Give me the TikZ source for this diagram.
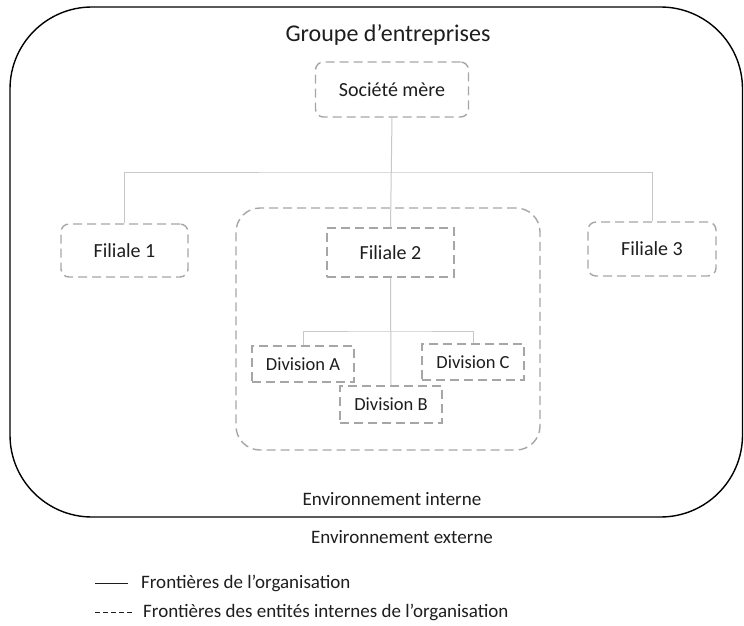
\documentclass[tikz,border=0pt]{standalone}
\usepackage{fontspec}
\setmainfont{Carlito}
\definecolor{dashgray}{HTML}{A6A6A6}
\definecolor{linegray}{HTML}{C8C8C8}
\definecolor{txt}{HTML}{1E1E1E}
\begin{document}
\begin{tikzpicture}[x=1pt,y=-1pt,
  entity/.style={draw=dashgray,line width=1.4pt,dash pattern=on 9pt off 5pt,rounded corners=8pt,
    inner sep=0pt,text=txt,font=\fontsize{20}{24}\selectfont},
  entitysq/.style={entity,rounded corners=0pt},
  division/.style={entitysq,font=\fontsize{18.5}{22}\selectfont},
  conn/.style={draw=linegray,line width=1pt},
  lbl/.style={text=txt,inner sep=0pt}]
\useasboundingbox (0,0) rectangle (744,626);
\fill[white] (0,0) rectangle (744,626);
% outer organisation boundary
\draw[line width=1.4pt,rounded corners=82pt] (10,7) rectangle (742.5,517);
\node[lbl,font=\fontsize{24}{28}\selectfont] (title) at (388,35) {Groupe d’entreprises};
% Filiale 2 group
\node[entity,rounded corners=24pt,minimum width=304pt,minimum height=242pt] (grp) at (388,329) {};
% entities
\node[entity,minimum width=153pt,minimum height=55pt] (mere) at (392,89.5) {Société mère};
\node[entity,minimum width=127pt,minimum height=53pt] (f1) at (124.5,250.5) {Filiale 1};
\node[entity,minimum width=128pt,minimum height=54pt] (f3) at (652,249) {Filiale 3};
\node[entitysq,minimum width=127pt,minimum height=49pt] (f2) at (390.5,252.5) {Filiale 2};
\node[division,minimum width=102pt,minimum height=36pt] (divA) at (303,364) {Division A};
\node[division,minimum width=102pt,minimum height=36pt] (divC) at (473,362) {Division C};
\node[division,minimum width=102pt,minimum height=37pt] (divB) at (391,404.5) {Division B};
% connectors
\coordinate (h1) at (391,172);
\coordinate (h2) at (391,331);
\draw[conn] (mere.south) -- (f2.north);
\draw[conn] (f1.north) |- (h1) -| (f3.north);
\draw[conn] (f2.south) -- (divB.north);
\draw[conn] (divA.north) |- (h2) -| (divC.north);
% environment labels
\node[lbl,font=\fontsize{19}{22}\selectfont] (int) at (392,499) {Environnement interne};
\node[lbl,font=\fontsize{19}{22}\selectfont] (ext) at (402,537) {Environnement externe};
% legend
\coordinate (l1a) at (95,583);
\coordinate (l1b) at (128,583);
\coordinate (l2a) at (95,612);
\coordinate (l2b) at (134,612);
\draw[line width=1pt,txt] (l1a) -- (l1b);
\draw[line width=1pt,txt,dash pattern=on 5pt off 3pt] (l2a) -- (l2b);
\node[lbl,anchor=west,font=\fontsize{19}{22}\selectfont] (leg1) at (141,583) {Frontières de l’organisation};
\node[lbl,anchor=west,font=\fontsize{19}{22}\selectfont] (leg2) at (143,612) {Frontières des entités internes de l’organisation};
\end{tikzpicture}
\end{document}
